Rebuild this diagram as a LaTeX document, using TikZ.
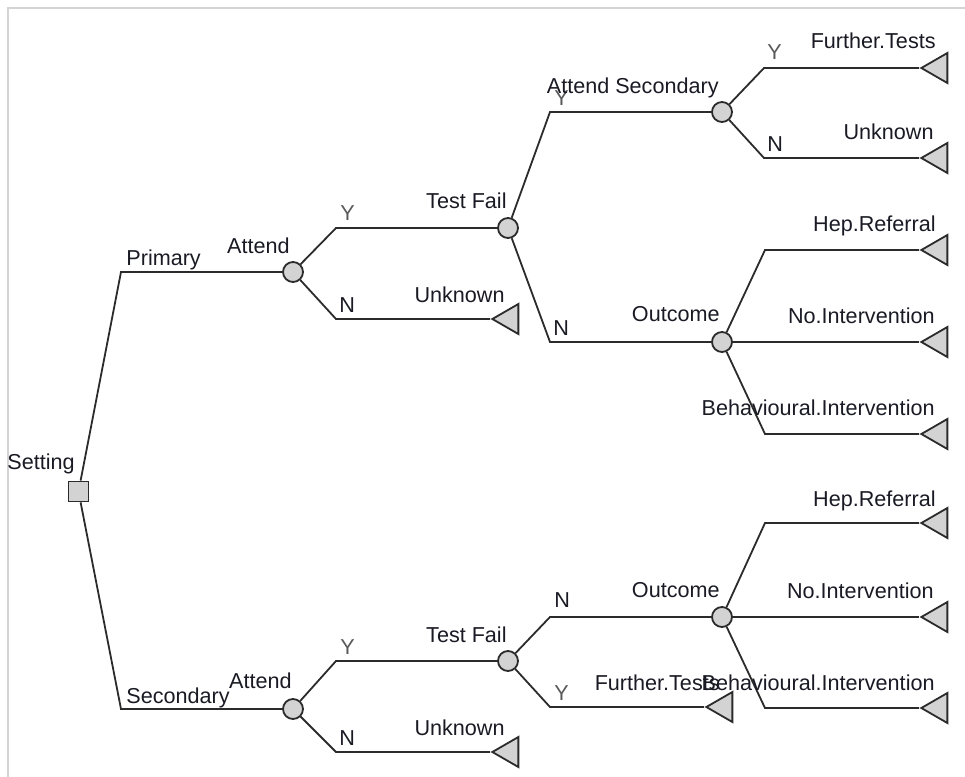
\documentclass[tikz,border=0pt]{standalone}
\usepackage{fontspec}
\setmainfont{Liberation Sans}
\usepackage{tikz}
\usetikzlibrary{arrows, arrows.meta, shapes.geometric}
\definecolor{nodegray}{HTML}{D3D3D3}
\definecolor{linegray}{HTML}{2B2B2B}
\definecolor{framegray}{HTML}{D4D4D4}
\definecolor{textdark}{HTML}{1A1A24}
\tikzset{
	font={\fontsize{10.8}{12}\selectfont}}
\tikzstyle{decision} = [rectangle, draw=linegray, line width=0.9pt, fill=nodegray, minimum size=10pt, inner sep=0]
\tikzstyle{chance} = [circle, draw=linegray, line width=0.9pt, fill=nodegray, minimum size=10pt, inner sep=0]
\tikzstyle{terminal} = [isosceles triangle, shape border rotate=180, isosceles triangle stretches, draw=linegray, line width=0.9pt, fill=nodegray, minimum width=15pt, minimum height=13pt, inner sep=0, anchor=apex]
\tikzstyle{branch} = [line width=0.9pt, draw=linegray, -]
\tikzstyle{nodetxt} = [anchor=base east, inner sep=0, text=textdark]
\tikzstyle{endtxt} = [anchor=base east, inner sep=0, text=textdark]
\tikzstyle{brtxt} = [anchor=base west, inner sep=0, text=textdark]
\tikzstyle{brY} = [anchor=base west, inner sep=0, text=black!65]

\begin{document}
\begin{tikzpicture}[x=0.5pt, y=-0.5pt]
\useasboundingbox (0,0) rectangle (965,777);
\draw[framegray, line width=1pt] (8,777) -- (8,8) -- (965,8);

\node[decision](setting) at (78.5,491.5) {};
\node[nodetxt](lsetting) at (75,469) {Setting};

% Primary
\coordinate (cpri) at (121,272);
\node[chance](att1) at (293,272) {};
\coordinate (att1y) at (336,228);
\coordinate (att1n) at (336,319);
\node[terminal](unk1) at (490,319) {};
\node[chance](tf1) at (508,228) {};
\coordinate (tf1y) at (550,112);
\coordinate (tf1n) at (550,342);
\node[chance](att2nd) at (722,112) {};
\coordinate (att2ndy) at (764,68);
\coordinate (att2ndn) at (764,158);
\node[terminal](ft1) at (919,68) {};
\node[terminal](unk2) at (919,158) {};
\node[chance](out1) at (722,342) {};
\coordinate (out1h) at (765,250);
\coordinate (out1b) at (765,434);
\node[terminal](hep1) at (919,250) {};
\node[terminal](noint1) at (919,342) {};
\node[terminal](beh1) at (919,434) {};

% Secondary
\coordinate (csec) at (121,709);
\node[chance](att3) at (293,709) {};
\coordinate (att3y) at (336,661);
\coordinate (att3n) at (336,752);
\node[terminal](unk3) at (490,752) {};
\node[chance](tf2) at (508,661) {};
\coordinate (tf2n) at (550,617);
\coordinate (tf2y) at (550,707);
\node[terminal](ft2) at (704,707) {};
\node[chance](out2) at (722,617) {};
\coordinate (out2h) at (765,523);
\coordinate (out2b) at (765,708);
\node[terminal](hep2) at (919,523) {};
\node[terminal](noint2) at (919,617) {};
\node[terminal](beh2) at (919,708) {};

% branches
\draw[branch](setting) -- (cpri) -- (att1);
\draw[branch](setting) -- (csec) -- (att3);
\draw[branch](att1) -- (att1y) -- (tf1);
\draw[branch](att1) -- (att1n) -- (unk1.apex);
\draw[branch](tf1) -- (tf1y) -- (att2nd);
\draw[branch](tf1) -- (tf1n) -- (out1);
\draw[branch](att2nd) -- (att2ndy) -- (ft1.apex);
\draw[branch](att2nd) -- (att2ndn) -- (unk2.apex);
\draw[branch](out1) -- (out1h) -- (hep1.apex);
\draw[branch](out1) -- (noint1.apex);
\draw[branch](out1) -- (out1b) -- (beh1.apex);
\draw[branch](att3) -- (att3y) -- (tf2);
\draw[branch](att3) -- (att3n) -- (unk3.apex);
\draw[branch](tf2) -- (tf2n) -- (out2);
\draw[branch](tf2) -- (tf2y) -- (ft2.apex);
\draw[branch](out2) -- (out2h) -- (hep2.apex);
\draw[branch](out2) -- (noint2.apex);
\draw[branch](out2) -- (out2b) -- (beh2.apex);

% branch labels
\node[brtxt](lpri) at (126,265) {Primary};
\node[brtxt](lsec) at (126,703) {Secondary};
\node[brY](latt1y) at (340,220) {Y};
\node[brtxt](latt1n) at (339,312) {N};
\node[brY](ltf1y) at (554,105) {Y};
\node[brtxt](ltf1n) at (553,335) {N};
\node[brY](latt2ndy) at (767,59) {Y};
\node[brtxt](latt2ndn) at (767,151) {N};
\node[brY](latt3y) at (340,654) {Y};
\node[brtxt](latt3n) at (339,745) {N};
\node[brtxt](ltf2n) at (554,607) {N};
\node[brY](ltf2y) at (554,700) {Y};

% node labels
\node[nodetxt](latt1) at (290,253) {Attend};
\node[nodetxt](ltf1) at (507,208) {Test Fail};
\node[nodetxt](latt2nd) at (719,93) {Attend Secondary};
\node[nodetxt](lout1) at (720,321) {Outcome};
\node[nodetxt](latt3) at (292,688) {Attend};
\node[nodetxt](ltf2) at (507,642) {Test Fail};
\node[nodetxt](lout2) at (720,597) {Outcome};

% terminal labels
\node[endtxt](lft1) at (936,48) {Further.Tests};
\node[endtxt](lunk2) at (934,139) {Unknown};
\node[endtxt](lhep1) at (936,231) {Hep.Referral};
\node[endtxt](lnoint1) at (935,323) {No.Intervention};
\node[endtxt](lbeh1) at (935,415) {Behavioural.Intervention};
\node[endtxt](lunk1) at (505,302) {Unknown};
\node[endtxt](lhep2) at (936,506) {Hep.Referral};
\node[endtxt](lnoint2) at (934,598) {No.Intervention};
\node[endtxt](lbeh2) at (935,690) {Behavioural.Intervention};
\node[endtxt](lft2) at (720,690) {Further.Tests};
\node[endtxt](lunk3) at (505,735) {Unknown};

\end{tikzpicture}
\end{document}
